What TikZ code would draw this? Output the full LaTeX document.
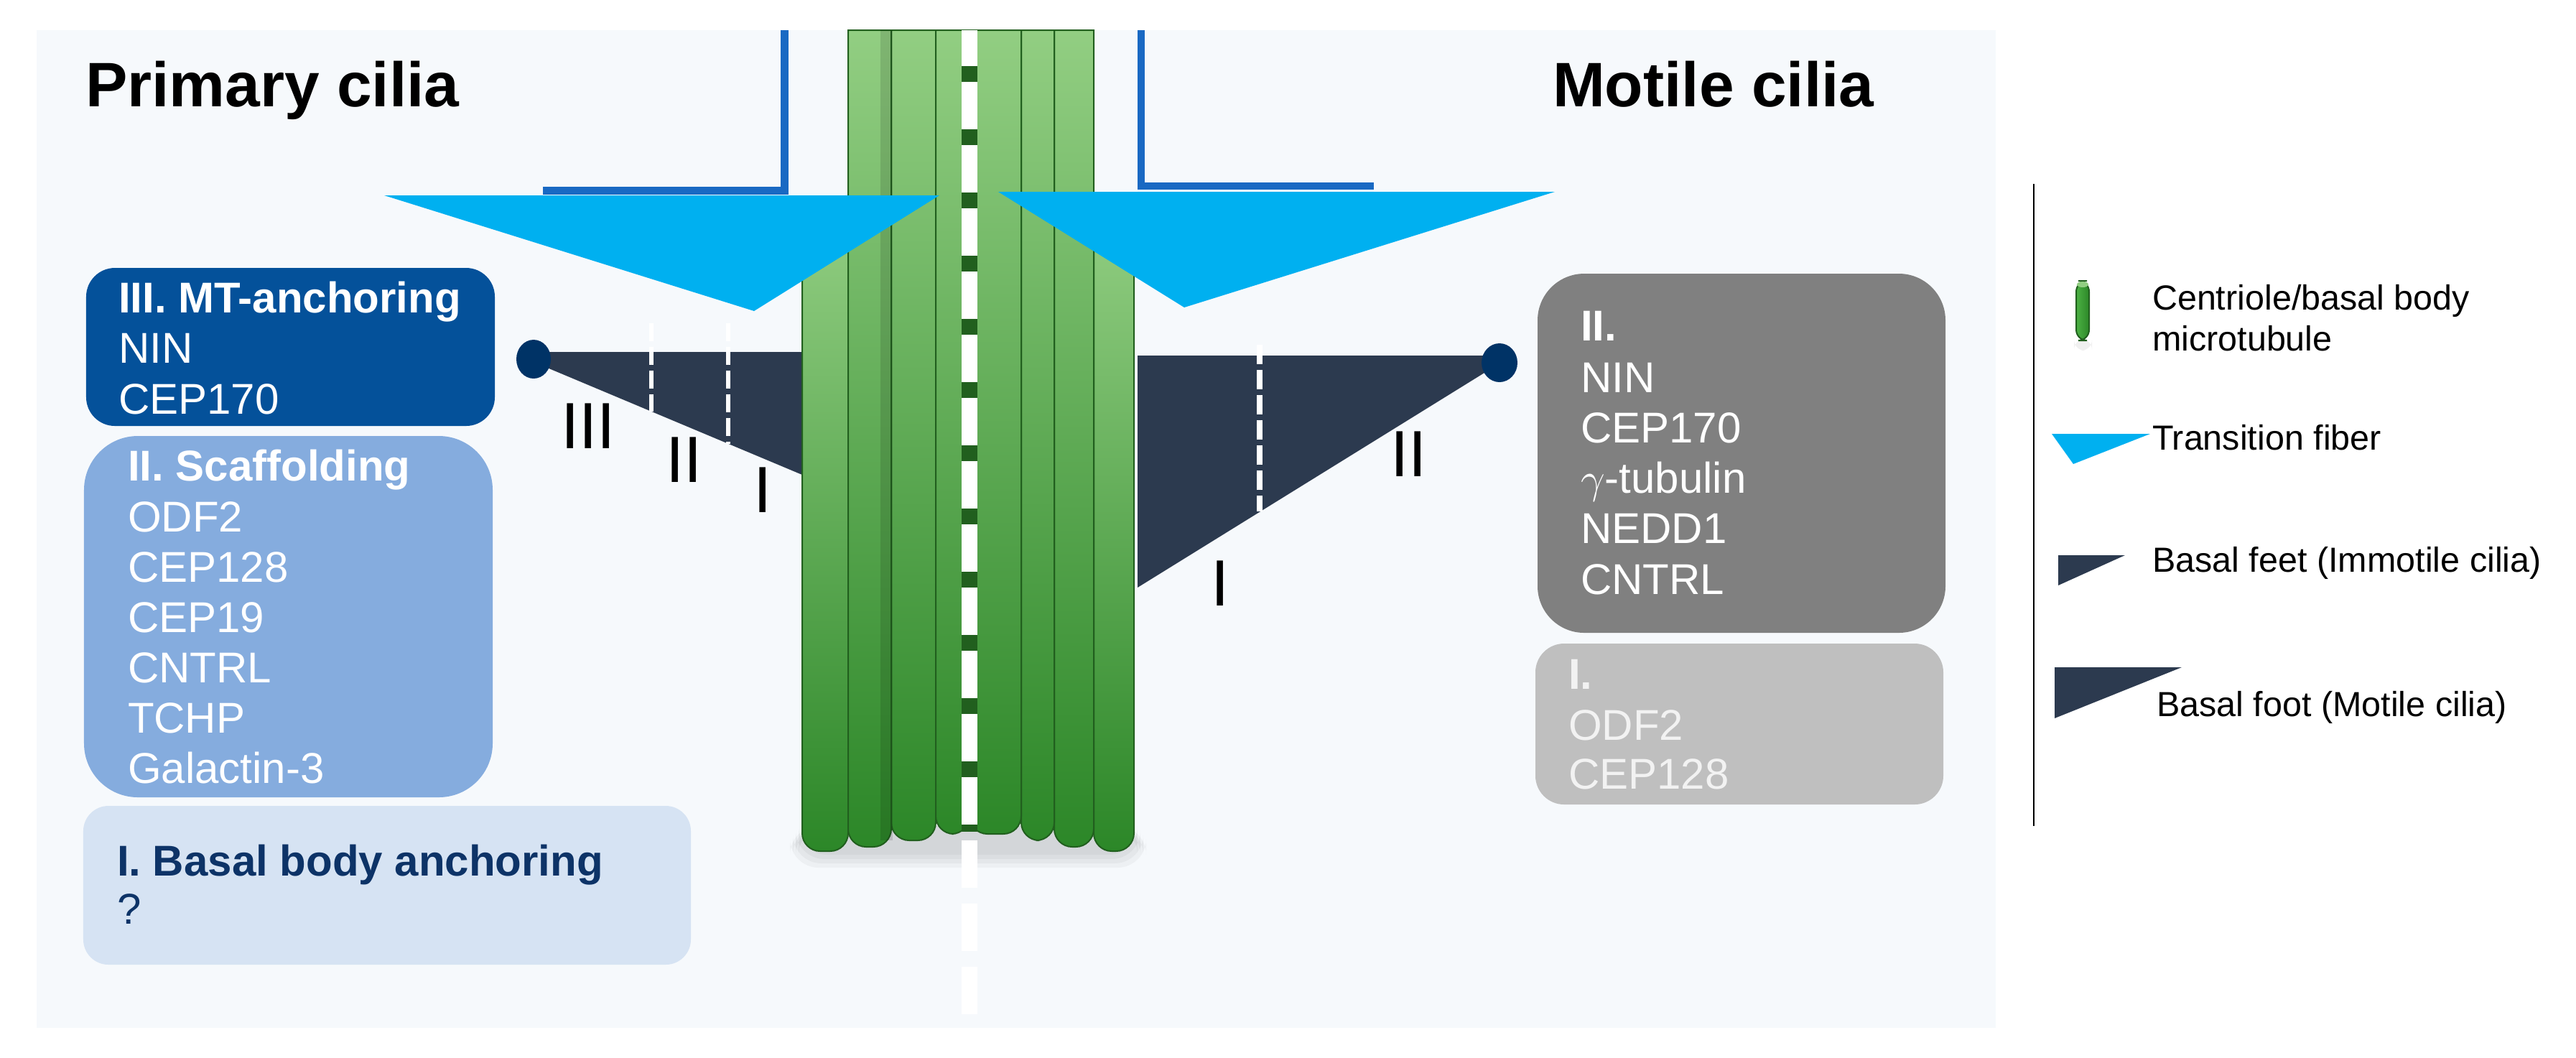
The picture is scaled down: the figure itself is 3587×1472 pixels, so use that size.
\documentclass[tikz,border=0pt]{standalone}
\usepackage{fontspec}
\setmainfont{Liberation Sans}
\definecolor{panel}{RGB}{246,249,252}
\definecolor{fiber}{RGB}{0,176,240}
\definecolor{lblue}{RGB}{25,105,195}
\definecolor{footc}{RGB}{44,58,79}
\definecolor{dotc}{RGB}{0,51,102}
\definecolor{boxIII}{RGB}{4,81,154}
\definecolor{boxII}{RGB}{133,172,222}
\definecolor{boxI}{RGB}{214,227,243}
\definecolor{navy}{RGB}{13,51,103}
\definecolor{gdark}{RGB}{33,95,30}
\definecolor{gtop}{RGB}{146,206,130}
\definecolor{gmid}{RGB}{76,178,68}
\definecolor{gbot}{RGB}{44,135,40}
\definecolor{rgrayII}{RGB}{128,128,128}
\definecolor{rgrayI}{RGB}{191,191,191}
\begin{document}
\begin{tikzpicture}[x=0.2pt,y=-0.2pt,
  txt/.style={inner sep=0pt, anchor=base west, font=\fontsize{12}{14}\selectfont},
  hdr/.style={inner sep=0pt, anchor=base west, font=\fontsize{12}{14}\selectfont\bfseries},
  ttl/.style={inner sep=0pt, anchor=base west, font=\fontsize{17.5}{20}\selectfont\bfseries},
  roman/.style={inner sep=0pt, anchor=base west, font=\fontsize{18.2}{20}\selectfont},
  leg/.style={inner sep=0pt, anchor=base west, font=\fontsize{9.7}{11.4}\selectfont},
  pbox/.style={inner sep=0pt, draw=none, rounded corners=#1},
  cyl/.style={top color=gtop, middle color=gmid, bottom color=gbot, draw=gdark, line width=0.4pt},
  fib/.style={fill=fiber},
  foot/.style={fill=footc},
  wdash/.style={white, line width=1.3pt, dash pattern=on 5pt off 1.6pt}]
\useasboundingbox (0,0) rectangle (3587,1472);
\fill[white] (0,0) rectangle (3587,1472);
\fill[panel] (51,42) rectangle (2779,1431);

% blue L lines
\draw[lblue, line width=2.2pt] (1092,42) -- (1092,265) -- (756,265);
\draw[lblue, line width=2.0pt] (1589,42) -- (1589,259) -- (1913,259);

% basal feet (behind green)
\fill[foot] (743,490) -- (1117,490) -- (1117,661) -- (743,504) -- cycle;
\fill[foot] (2088,495) -- (1584,495) -- (1584,818) -- (2088,506) -- cycle;

% shadow below cylinders
\foreach \k in {0,1,2,3}
  \fill[black, opacity=0.035, rounded corners=8pt] ({1112-4*\k},1150) rectangle ({1584+4*\k},{1190+6*\k});

% green cylinders
\foreach \xa/\xb/\yt/\yb in {1117/1181/290/1185, 1523/1579/290/1185, 1181/1241/42/1179, 1468/1523/42/1179, 1241/1303/42/1170, 1422/1468/42/1170, 1303/1350/42/1161, 1350/1422/42/1161}
  \shade[cyl] (\xa,\yt) [rounded corners=5pt] -- (\xa,\yb) -- (\xb,\yb) [sharp corners] -- (\xb,\yt) -- cycle;
\fill[black, opacity=0.12] (1226,42) rectangle (1243,1170);
% center line
\draw[gdark, line width=4.4pt] (1350,42) -- (1350,1158);
\draw[white, line width=4.4pt, dash pattern=on 13.2pt off 4.4pt, dash phase=3.2pt] (1350,42) -- (1350,1425);

% transition fibers
\fill[fib] (535,272) -- (1308,272) -- (1050,433) -- cycle;
\fill[fib] (1390,267) -- (2165,267) -- (1649,428) -- cycle;

% dashed dividers in basal feet
\draw[wdash] (907,450) -- (907,573);
\draw[wdash] (1014,450) -- (1014,618);
\draw[white, line width=1.6pt, dash pattern=on 5.4pt off 1.6pt] (1754,480) -- (1754,712);

% dots
\fill[dotc] (743,500) ellipse [x radius=24, y radius=27];
\fill[dotc] (2088,505) ellipse [x radius=25, y radius=27];

% roman labels
\node[roman] (rIIIl) at (780,624) {III};
\node[roman] (rIIl) at (926,671) {II};
\node[roman] (rIl) at (1048,713) {I};
\node[roman] (rIIr) at (1935,663) {II};
\node[roman] (rIr) at (1685,843) {I};

% titles
\node[ttl] (tprim) at (118,148) {Primary cilia};
\node[ttl] (tmot) at (2161,148) {Motile cilia};

% left boxes
\node[pbox=8pt, fill=boxIII, minimum width=113.8pt, minimum height=44pt] (bL3) at (404.5,483) {};
\node[pbox=15pt, fill=boxII, minimum width=113.8pt, minimum height=100.6pt] (bL2) at (401.5,858.5) {};
\node[pbox=7pt, fill=boxI, minimum width=169.2pt, minimum height=44.2pt] (bL1) at (539,1232.5) {};

\node[hdr, white] (hL3) at (164,435) {III. MT-anchoring};
\foreach \t [count=\i from 0] in {NIN,CEP170}
  \node[txt, white] (tL3\i) at (164,{505+71*\i}) {\t};
\node[hdr, white] (hL2) at (177,669) {II. Scaffolding};
\foreach \t [count=\i from 0] in {ODF2,CEP128,CEP19,CNTRL,TCHP,Galactin-3}
  \node[txt, white] (tL2\i) at (177,{740+70*\i}) {\t};
\node[hdr, navy] (hL1) at (162,1219) {I. Basal body anchoring};
\node[txt, navy] (tL1) at (162,1286) {?};

% right boxes
\node[pbox=13pt, fill=rgrayII, minimum width=113.6pt, minimum height=100pt] (bR2) at (2425,631) {};
\node[pbox=8pt, fill=rgrayI, minimum width=113.6pt, minimum height=44.8pt] (bR1) at (2422,1008) {};

\node[hdr, white] (hR2) at (2200,474) {II.};
\foreach \t [count=\i from 0] in {NIN,CEP170,{$\gamma$-tubulin},NEDD1,CNTRL}
  \node[txt, white] (tR2\i) at (2200,{546+70.3*\i}) {\t};
\node[hdr, white!95!black] (hR1) at (2183,959) {I.};
\foreach \t [count=\i from 0] in {ODF2,CEP128}
  \node[txt, white!95!black] (tR1\i) at (2183,{1030+68*\i}) {\t};

% legend
\draw[black, line width=0.5pt] (2832,256) -- (2832,1150);
\fill[black, opacity=0.06, rounded corners=3pt] (2888,472) rectangle (2913,488);
\shade[left color=gmid, right color=gbot, draw=gdark, line width=0.4pt, rounded corners=3pt] (2891,391) rectangle (2909,474);
\fill[gtop] (2900,396) ellipse [x radius=8, y radius=4];
\node[leg] (lg1) at (2996,431) {Centriole/basal body};
\node[leg] (lg1b) at (2996,488) {microtubule};
\fill[fib] (2857,604) -- (2994,604) -- (2887,646) -- cycle;
\node[leg] (lg2) at (2996,626) {Transition fiber};
\fill[foot] (2866,773) -- (2959,773) -- (2866,815) -- cycle;
\node[leg] (lg3) at (2996,796) {Basal feet (Immotile cilia)};
\fill[foot] (2861,929) -- (3038,929) -- (2861,1000) -- cycle;
\node[leg] (lg4) at (3002,997) {Basal foot (Motile cilia)};
\end{tikzpicture}
\end{document}
